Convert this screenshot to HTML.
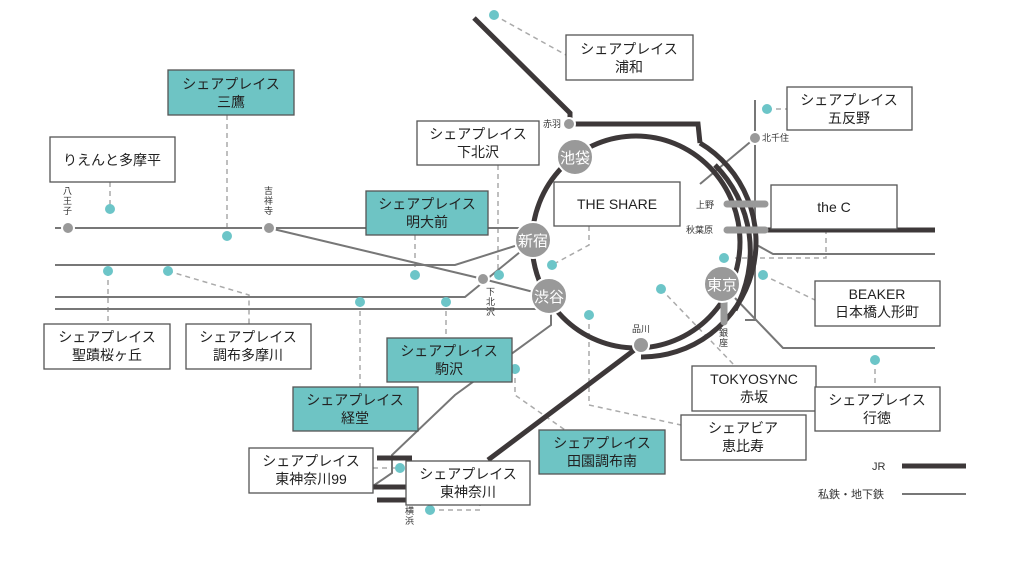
<!DOCTYPE html>
<html><head><meta charset="utf-8"><style>
html,body{margin:0;padding:0;background:#fff;}
svg{display:block;font-family:"Liberation Sans","Noto Sans CJK JP",sans-serif;}
</style></head><body>
<svg width="1024" height="576" viewBox="0 0 1024 576">
<g fill="none" stroke="#aaa" stroke-width="1.5" stroke-dasharray="5,4">
<polyline points="494,15 566,55"/>
<polyline points="227,115 227,236"/>
<polyline points="110,182 110,209"/>
<polyline points="498,165 498,275"/>
<polyline points="415,235 415,275"/>
<polyline points="589,226 589,245 552,265"/>
<polyline points="767,109 787,109"/>
<polyline points="826,229 826,258 735,258"/>
<polyline points="763,275 815,300"/>
<polyline points="108,271 108,324"/>
<polyline points="168,271 249,295 249,324"/>
<polyline points="446,302 446,338"/>
<polyline points="360,302 360,387"/>
<polyline points="661,289 735,366"/>
<polyline points="875,360 875,387"/>
<polyline points="515,369 515,395 565,430"/>
<polyline points="589,315 589,405 681,425"/>
<polyline points="373,468 400,468"/>
<polyline points="430,510 480,510 480,505"/>
</g>
<g fill="none" stroke="#777" stroke-width="2">
<polyline points="55,228 530,228"/>
<polyline points="269,228 483,279 549,296"/>
<polyline points="55,265 455,265 518,245"/>
<polyline points="55,297 465,297 520,252"/>
<polyline points="55,309 540,309"/>
<polyline points="551,313 551,325 455,395 392,455 392,473 373,486"/>
<polyline points="700,184 755,138"/>
<polyline points="755,100 755,320 745,320"/>
<polyline points="755,244 773,254 935,254"/>
<polyline points="735,298 783,348 935,348"/>
<line x1="902" y1="494" x2="966" y2="494"/>
</g>
<g fill="none" stroke="#3d3839" stroke-width="5">
<ellipse cx="636" cy="242" rx="104" ry="106"/>
<polyline points="474,18 570,113 570,124 698,124 700,143"/>
<path d="M700,143 A114,115 0 0 1 641,357"/>
<path d="M715,165 A122,122 0 0 1 735,310"/>
<line x1="641" y1="345" x2="488" y2="460"/>
<line x1="765" y1="230" x2="935" y2="230"/>
<line x1="377" y1="458" x2="412" y2="458"/>
<line x1="373" y1="487" x2="408" y2="487"/>
<line x1="377" y1="500" x2="408" y2="500"/>
<line x1="902" y1="466" x2="966" y2="466"/>
</g>
<g stroke="#999" stroke-width="7" stroke-linecap="round">
<line x1="727" y1="204" x2="765" y2="204"/>
<line x1="727" y1="230" x2="765" y2="230"/>
<line x1="724" y1="302" x2="724" y2="322"/>
</g>
<g fill="#999" stroke="#fff" stroke-width="2">
<circle cx="575" cy="157" r="18"/><circle cx="533" cy="240" r="18"/>
<circle cx="549" cy="296" r="18"/><circle cx="722" cy="284" r="18"/>
<circle cx="641" cy="345" r="8"/><circle cx="569" cy="124" r="6"/>
<circle cx="755" cy="138" r="6"/><circle cx="483" cy="279" r="6"/>
<circle cx="68" cy="228" r="6"/><circle cx="269" cy="228" r="6"/>
</g>
<g fill="#fff" font-size="15" text-anchor="middle">
<text x="575" y="163">池袋</text><text x="533" y="246">新宿</text>
<text x="549" y="302">渋谷</text><text x="722" y="290">東京</text>
</g>
<g fill="#6cc5c8">
<circle cx="494" cy="15" r="5"/><circle cx="767" cy="109" r="5"/><circle cx="110" cy="209" r="5"/>
<circle cx="227" cy="236" r="5"/><circle cx="108" cy="271" r="5"/><circle cx="168" cy="271" r="5"/>
<circle cx="415" cy="275" r="5"/><circle cx="499" cy="275" r="5"/><circle cx="552" cy="265" r="5"/>
<circle cx="360" cy="302" r="5"/><circle cx="446" cy="302" r="5"/><circle cx="589" cy="315" r="5"/>
<circle cx="661" cy="289" r="5"/><circle cx="724" cy="258" r="5"/><circle cx="763" cy="275" r="5"/>
<circle cx="875" cy="360" r="5"/><circle cx="515" cy="369" r="5"/><circle cx="400" cy="468" r="5"/>
<circle cx="430" cy="510" r="5"/>
</g>
<g fill="#333" font-size="9">
<text x="543" y="127">赤羽</text><text x="762" y="141">北千住</text>
<text x="696" y="208">上野</text><text x="686" y="233">秋葉原</text>
<text x="632" y="332">品川</text>
<text x="719" y="336">銀</text><text x="719" y="346">座</text>
<text x="63" y="194">八</text><text x="63" y="204">王</text><text x="63" y="214">子</text>
<text x="264" y="194">吉</text><text x="264" y="204">祥</text><text x="264" y="214">寺</text>
<text x="486" y="295">下</text><text x="486" y="305">北</text><text x="486" y="315">沢</text>
<text x="405" y="514">横</text><text x="405" y="524">浜</text>
<text x="872" y="470" font-size="11">JR</text>
<text x="818" y="498" font-size="11">私鉄・地下鉄</text>
</g>
<g stroke="#555" stroke-width="1.3" font-size="14" text-anchor="middle">
<rect x="566" y="35" width="127" height="45" fill="#fff"/>
<rect x="168" y="70" width="126" height="45" fill="#6ec4c4"/>
<rect x="50" y="137" width="125" height="45" fill="#fff"/>
<rect x="417" y="121" width="122" height="44" fill="#fff"/>
<rect x="366" y="191" width="122" height="44" fill="#6ec4c4"/>
<rect x="554" y="182" width="126" height="44" fill="#fff"/>
<rect x="787" y="87" width="125" height="43" fill="#fff"/>
<rect x="771" y="185" width="126" height="44" fill="#fff"/>
<rect x="815" y="281" width="125" height="45" fill="#fff"/>
<rect x="44" y="324" width="126" height="45" fill="#fff"/>
<rect x="186" y="324" width="125" height="45" fill="#fff"/>
<rect x="387" y="338" width="125" height="44" fill="#6ec4c4"/>
<rect x="293" y="387" width="125" height="44" fill="#6ec4c4"/>
<rect x="692" y="366" width="124" height="45" fill="#fff"/>
<rect x="815" y="387" width="125" height="44" fill="#fff"/>
<rect x="539" y="430" width="126" height="44" fill="#6ec4c4"/>
<rect x="681" y="415" width="125" height="45" fill="#fff"/>
<rect x="249" y="448" width="124" height="45" fill="#fff"/>
<rect x="406" y="461" width="124" height="44" fill="#fff"/>
</g>
<g fill="#222" font-size="14" text-anchor="middle">
<text x="629" y="54">シェアプレイス</text><text x="629" y="72">浦和</text>
<text x="231" y="89">シェアプレイス</text><text x="231" y="107">三鷹</text>
<text x="112" y="165">りえんと多摩平</text>
<text x="478" y="139">シェアプレイス</text><text x="478" y="157">下北沢</text>
<text x="427" y="209">シェアプレイス</text><text x="427" y="227">明大前</text>
<text x="617" y="209">THE SHARE</text>
<text x="849" y="105">シェアプレイス</text><text x="849" y="123">五反野</text>
<text x="834" y="212">the C</text>
<text x="877" y="299">BEAKER</text><text x="877" y="317">日本橋人形町</text>
<text x="107" y="342">シェアプレイス</text><text x="107" y="360">聖蹟桜ヶ丘</text>
<text x="248" y="342">シェアプレイス</text><text x="248" y="360">調布多摩川</text>
<text x="449" y="356">シェアプレイス</text><text x="449" y="374">駒沢</text>
<text x="355" y="405">シェアプレイス</text><text x="355" y="423">経堂</text>
<text x="754" y="384">TOKYOSYNC</text><text x="754" y="402">赤坂</text>
<text x="877" y="405">シェアプレイス</text><text x="877" y="423">行徳</text>
<text x="602" y="448">シェアプレイス</text><text x="602" y="466">田園調布南</text>
<text x="743" y="433">シェアビア</text><text x="743" y="451">恵比寿</text>
<text x="311" y="466">シェアプレイス</text><text x="311" y="484">東神奈川99</text>
<text x="468" y="479">シェアプレイス</text><text x="468" y="497">東神奈川</text>
</g>
</svg>
</body></html>
